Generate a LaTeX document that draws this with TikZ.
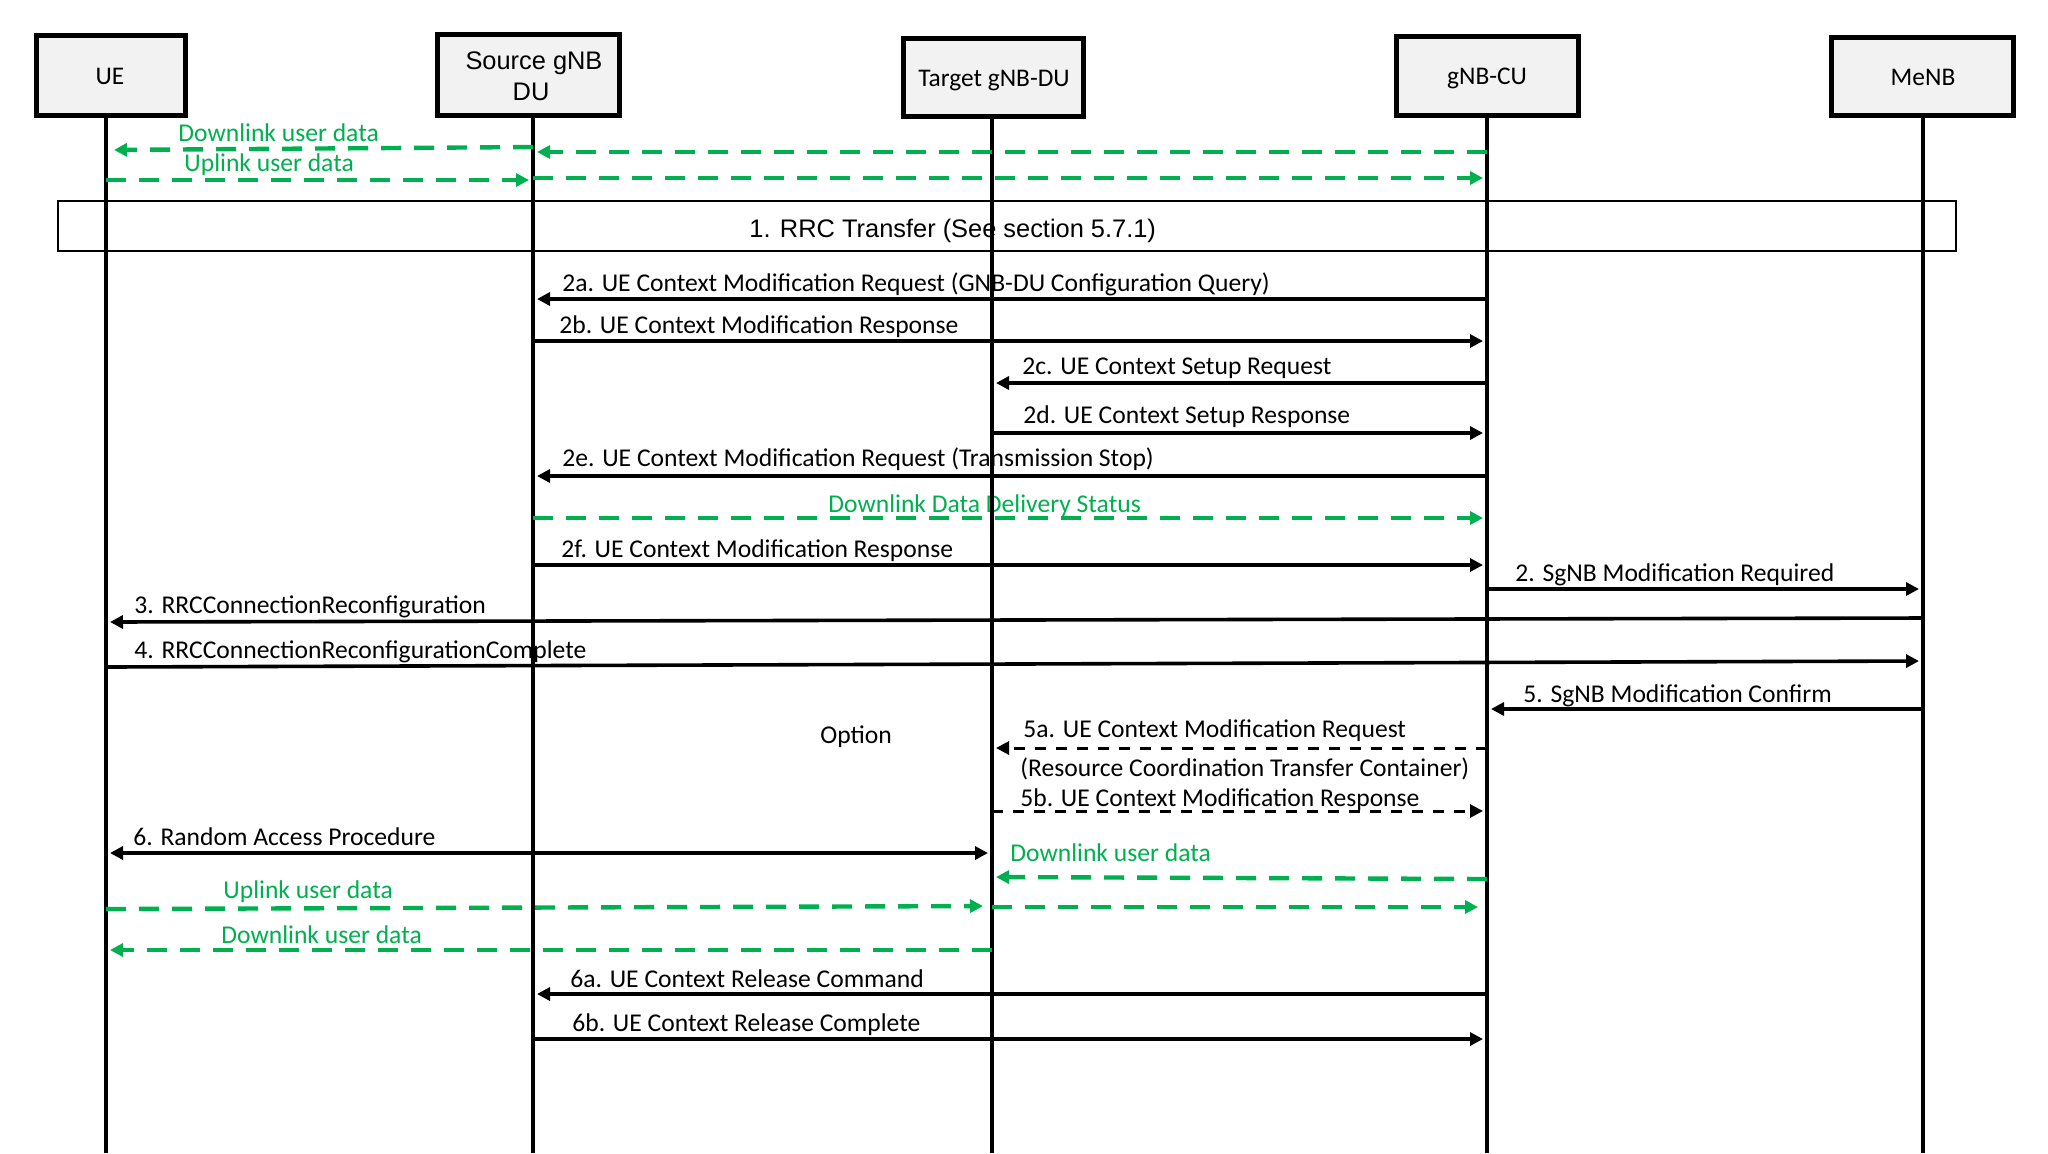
\documentclass[tikz,border=0pt]{standalone}
\usepackage{fontspec}
\setmainfont{Carlito}
\newfontfamily\arialf{Liberation Sans}
\usetikzlibrary{arrows.meta}
\definecolor{grn}{HTML}{00B050}
\definecolor{boxgray}{HTML}{F2F2F2}
\begin{document}
\begin{tikzpicture}[x=0.5pt,y=-0.5pt,
  actor/.style={draw, line width=2.4pt, fill=boxgray, inner sep=0pt},
  boxtxt/.style={font=\fontsize{12.7}{15}\selectfont, inner sep=0pt, anchor=base},
  abox/.style={font=\arialf\fontsize{12.7}{15}\selectfont, inner sep=0pt, anchor=base},
  lbl/.style={font=\fontsize{12.8}{15}\selectfont, inner sep=0pt, anchor=base west},
  glbl/.style={lbl, text=grn},
  life/.style={line width=2pt},
  msg/.style={line width=1.8pt, -{Triangle[length=6.5pt,width=6.5pt]}, shorten >=2pt},
  dmsg/.style={msg, line width=1.5pt, dash pattern=on 5.5pt off 5pt},
  gmsg/.style={msg, color=grn, line width=2.2pt, dash pattern=on 10pt off 6.5pt},
  bmsg/.style={line width=1.8pt, {Triangle[length=6.5pt,width=6.5pt]}-{Triangle[length=6.5pt,width=6.5pt]}, shorten >=2pt, shorten <=2pt}
]
\useasboundingbox[fill=white] (0,0) rectangle (2048,1153);

% actor boxes
\node[actor, minimum width=74.5pt, minimum height=40pt] (ue) at (111,75.5) {};
\node[actor, minimum width=91pt, minimum height=40.5pt] (src) at (528.5,75) {};
\node[actor, minimum width=90pt, minimum height=39pt] (tgt) at (993.5,77.5) {};
\node[actor, minimum width=91pt, minimum height=39.5pt] (cu) at (1487.5,76) {};
\node[actor, minimum width=91pt, minimum height=39pt] (me) at (1922.5,76.5) {};

\node[boxtxt] (ue-t) at (110,84) {UE};
\node[abox] (src-t1) at (534,69) {Source gNB};
\node[abox] (src-t2) at (531,100) {DU};
\node[boxtxt] (tgt-t) at (994,86) {Target gNB-DU};
\node[boxtxt] (cu-t) at (1487,84) {gNB-CU};
\node[boxtxt] (me-t) at (1923,85) {MeNB};

% RRC transfer box
\node[draw, line width=1.3pt, minimum width=949pt, minimum height=25pt, inner sep=0pt] (rrc) at (1007,226) {};
\node[abox, anchor=base west] (rrc-t) at (749,237) {1. RRC Transfer (See section 5.7.1)};

% lifeline coordinates
\coordinate (lue) at (106,0);
\coordinate (lsrc) at (533,0);
\coordinate (ltgt) at (992,0);
\coordinate (lcu) at (1487,0);
\coordinate (lme) at (1923,0);

% labels
\node[glbl] (t1) at (178,141) {Downlink user data};
\node[glbl] (t2) at (184,171) {Uplink user data};
\node[lbl] (t2a) at (562,291) {2a. UE Context Modification Request (GNB-DU Configuration Query)};
\node[lbl] (t2b) at (559,333) {2b. UE Context Modification Response};
\node[lbl] (t2c) at (1022,374) {2c. UE Context Setup Request};
\node[lbl] (t2d) at (1023,423) {2d. UE Context Setup Response};
\node[lbl] (t2e) at (562,466) {2e. UE Context Modification Request (Transmission Stop)};
\node[glbl] (tdd) at (828,512) {Downlink Data Delivery Status};
\node[lbl] (t2f) at (561,557) {2f. UE Context Modification Response};
\node[lbl] (t2s) at (1515,581) {2. SgNB Modification Required};
\node[lbl] (t3) at (134,613) {3. RRCConnectionReconfiguration};
\node[lbl] (t4) at (134,658) {4. RRCConnectionReconfigurationComplete};
\node[lbl] (t5) at (1523,702) {5. SgNB Modification Confirm};
\node[lbl] (topt) at (820,743) {Option};
\node[lbl] (t5a) at (1023,737) {5a. UE Context Modification Request};
\node[lbl] (t5a2) at (1020,776) {(Resource Coordination Transfer Container)};
\node[lbl] (t5b) at (1020,806) {5b. UE Context Modification Response};
\node[lbl] (t6) at (133,845) {6. Random Access Procedure};
\node[glbl] (tdl2) at (1010,861) {Downlink user data};
\node[glbl] (tul2) at (223,898) {Uplink user data};
\node[glbl] (tdl3) at (221,943) {Downlink user data};
\node[lbl] (t6a) at (570,987) {6a. UE Context Release Command};
\node[lbl] (t6b) at (572,1031) {6b. UE Context Release Complete};

% lifelines
\draw[life] (ue.south -| lue) -- (lue |- 0,1153);
\draw[life] (src.south -| lsrc) -- (lsrc |- 0,1153);
\draw[life] (tgt.south -| ltgt) -- (ltgt |- 0,1153);
\draw[life] (cu.south -| lcu) -- (lcu |- 0,1153);
\draw[life] (me.south -| lme) -- (lme |- 0,1153);

% messages
\draw[gmsg] (lcu |- 0,152) -- (lsrc |- 0,152);
\draw[gmsg, shorten >=4pt] (lsrc |- 0,147) -- (lue |- 0,150);
\draw[gmsg] (lue |- 0,180) -- (lsrc |- 0,180);
\draw[gmsg] (lsrc |- 0,178) -- (lcu |- 0,178);
\draw[msg] (lcu |- 0,299) -- (lsrc |- 0,299);
\draw[msg] (lsrc |- 0,341) -- (lcu |- 0,341);
\draw[msg] (lcu |- 0,383) -- (ltgt |- 0,383);
\draw[msg] (ltgt |- 0,433) -- (lcu |- 0,433);
\draw[msg] (lcu |- 0,476) -- (lsrc |- 0,476);
\draw[gmsg] (lsrc |- 0,518) -- (lcu |- 0,518);
\draw[msg] (lsrc |- 0,565) -- (lcu |- 0,565);
\draw[msg] (lcu |- 0,589) -- (lme |- 0,589);
\draw[msg] (lme |- 0,618) -- (lue |- 0,622);
\draw[msg] (lue |- 0,667) -- (lme |- 0,661);
\draw[msg] (lme |- 0,709) -- (lcu |- 0,709);
\draw[dmsg] (lcu |- 0,748) -- (ltgt |- 0,748);
\draw[dmsg] (ltgt |- 0,811) -- (lcu |- 0,811);
\draw[bmsg] (lue |- 0,853) -- (ltgt |- 0,853);
\draw[gmsg] (lcu |- 0,879) -- (ltgt |- 0,877);
\draw[gmsg, shorten >=4.5pt] (lue |- 0,909) -- (ltgt |- 0,906);
\draw[gmsg, shorten >=4.5pt] (ltgt |- 0,907) -- (lcu |- 0,907);
\draw[gmsg] (ltgt |- 0,950) -- (lue |- 0,950);
\draw[msg] (lcu |- 0,994) -- (lsrc |- 0,994);
\draw[msg] (lsrc |- 0,1039) -- (lcu |- 0,1039);
\end{tikzpicture}
\end{document}
